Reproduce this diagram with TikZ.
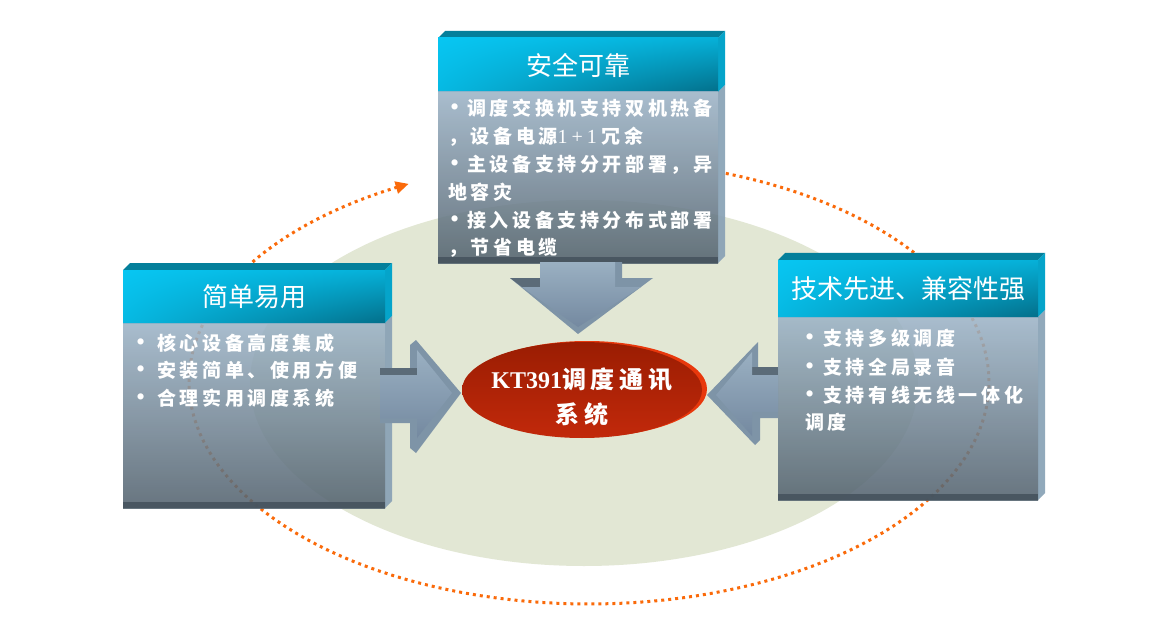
\documentclass[tikz,border=0pt]{standalone}
\usepackage{fontspec}
\setmainfont{Noto Sans CJK SC}
\newfontfamily\itemfont{Noto Sans CJK SC}[LetterSpace=19]
\newfontfamily\corefont{Noto Sans CJK SC}[LetterSpace=20]
\newfontfamily\latinfont{Liberation Serif}
\usetikzlibrary{arrows.meta,shadings}

\definecolor{beige}{HTML}{E2E7D4}
\definecolor{dotorange}{HTML}{FA6A0A}
\definecolor{capfront}{HTML}{07C6F2}
\definecolor{capdark}{HTML}{036F8A}
\definecolor{captop}{HTML}{047F9B}
\definecolor{capside}{HTML}{05A4CA}
\definecolor{bodytop}{HTML}{9DB4C7}
\definecolor{bodybot}{HTML}{53626E}
\definecolor{bodyside}{HTML}{86A0B4}
\definecolor{bodyedge}{HTML}{46535E}
\definecolor{arrowtop}{HTML}{9AB0C2}
\definecolor{arrowbot}{HTML}{7489A0}
\definecolor{arrowedge}{HTML}{7E94A7}
\definecolor{arrowdark}{HTML}{5B6B78}
\definecolor{corered}{HTML}{C2290B}
\definecolor{coredark}{HTML}{9A1D02}
\definecolor{corerim}{HTML}{E8380C}

\newcommand\bul[1][16pt]{\makebox[#1][l]{\latinfont\mdseries\fontsize{26}{26}\selectfont •}}

\begin{document}
\begin{tikzpicture}[x=1pt,y=-1pt,
    title/.style={text=white,inner sep=0pt,font=\fontsize{26}{30}\selectfont},
    item/.style={anchor=west,text=white,inner sep=0pt,font=\itemfont\bfseries\fontsize{19}{22}\selectfont},
    coretext/.style={text=white,align=center,inner sep=0pt,font=\corefont\bfseries\fontsize{24}{35}\selectfont},
    bevel/.style={fill=arrowedge},
    face/.style={top color=arrowtop,bottom color=arrowbot},
    orbit/.style={draw=dotorange,line width=3pt,dash pattern=on 3pt off 4pt,-{Triangle[length=13pt,width=12pt]}}]
  \useasboundingbox (0,0) rectangle (1154,631);
  \fill[white] (0,0) rectangle (1154,631);

  % background disc and dotted orbit
  \fill[beige] (584,383) ellipse [x radius=334, y radius=183];
  \draw[orbit] plot[domain=-70:243.2,samples=140] ({589+400*cos(\x)},{382+222*sin(\x)});

  % the three panels
  \foreach \lx/\ty/\rx/\hy/\by/\nm/\ttl in {438/38/718/92/263/safe/安全可靠,
      123/270/385/323/508/easy/简单易用,
      778/260/1038/317/500/tech/技术先进、兼容性强}{
    \fill[captop] (\lx,\ty) -- (\lx+7,\ty-7) -- (\rx+7,\ty-7) -- (\rx,\ty) -- cycle;
    \fill[capside] (\rx,\ty) -- (\rx+7,\ty-7) -- (\rx+7,\hy-7) -- (\rx,\hy) -- cycle;
    \fill[bodyside,fill opacity=.9] (\rx,\hy) -- (\rx+7,\hy-7) -- (\rx+7,\by-7) -- (\rx,\by) -- cycle;
    \shade[upper left=capfront,upper right=capfront!75!capdark,lower left=capfront!85!capdark,lower right=capdark]
      (\lx,\ty) rectangle (\rx,\hy);
    \shade[top color=bodytop,bottom color=bodybot,fill opacity=.88] (\lx,\hy) rectangle (\rx,\by);
    \fill[bodyedge,fill opacity=.9] (\lx,\by-6) rectangle (\rx,\by);
    \node[title] (\nm) at ({(\lx+\rx)/2},{(\ty+\hy)/2}) {\ttl};
  }

  % block arrows: outline, dark top faces, front face
  \fill[bevel] (540,262) -- (622,262) -- (622,278) -- (653,278) -- (578,334) -- (510,278) -- (540,278) -- cycle;
  \fill[arrowdark] (510,278) -- (540,278) -- (540,287) -- (522,287) -- cycle;
  \shade[face] (540,262) -- (615,262) -- (615,287) -- (641,287) -- (578,327) -- (522,287) -- (540,287) -- cycle;

  \fill[bevel] (380,368) -- (410,368) -- (410,345) -- (416,340) -- (461,393) -- (416,453) -- (410,448) -- (410,423) -- (380,423) -- cycle;
  \fill[arrowdark] (380,368) rectangle (417,375);
  \shade[face] (380,375) -- (417,375) -- (417,350) -- (452,393) -- (417,438) -- (417,418) -- (380,418) -- cycle;

  \fill[bevel] (778,367) -- (758,367) -- (758,342) -- (707,395) -- (755,445) -- (760,440) -- (760,418) -- (778,418) -- cycle;
  \fill[arrowdark] (752,367) rectangle (778,375);
  \shade[face] (778,375) -- (752,375) -- (752,352) -- (716,395) -- (752,436) -- (752,412) -- (778,412) -- cycle;

  % panel texts
  \node[item] (safe1) at (450,108) {\bul[17pt]调度交换机支持双机热备};
  \node[item] (safe2) at (448,137) {，设备电源{\latinfont\mdseries\fontsize{20}{22}\selectfont 1\kern4pt+\kern4pt1\kern5pt}冗余};
  \node[item] (safe3) at (450,165) {\bul[17pt]主设备支持分开部署，异};
  \node[item] (safe4) at (448,192) {地容灾};
  \node[item] (safe5) at (450,220) {\bul[17pt]接入设备支持分布式部署};
  \node[item] (safe6) at (448,248) {，节省电缆};

  \node[item] (easy1) at (136,343) {\bul[21pt]核心设备高度集成};
  \node[item] (easy2) at (136,370) {\bul[21pt]安装简单、使用方便};
  \node[item] (easy3) at (136,398) {\bul[21pt]合理实用调度系统};

  \node[item] (tech1) at (805,338) {\bul[18pt]支持多级调度};
  \node[item] (tech2) at (805,367) {\bul[18pt]支持全局录音};
  \node[item] (tech3) at (805,395) {\bul[18pt]支持有线无线一体化};
  \node[item] (tech4) at (805,422) {调度};

  % centre
  \fill[corerim] (587,389) ellipse [x radius=120, y radius=48];
  \shade[top color=coredark,middle color=corered,bottom color=corered] (582,390) ellipse [x radius=120, y radius=48];
  \node[coretext] (core) at (582,397) {{\latinfont KT391}调度通讯\\系统};
\end{tikzpicture}
\end{document}
